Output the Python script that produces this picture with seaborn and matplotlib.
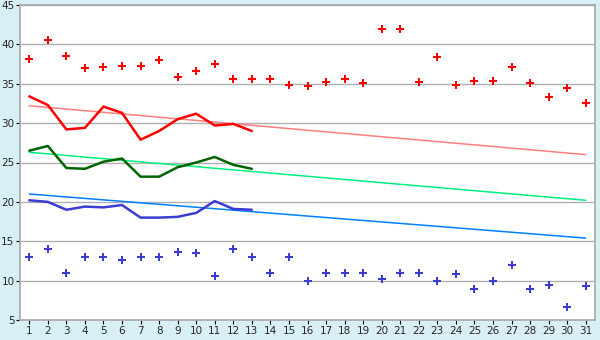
import matplotlib
matplotlib.use("Agg")
import matplotlib.pyplot as plt
import seaborn as sns
import pandas as pd
import numpy as np

days = list(range(1, 32))
max_temp = [38.1, 40.5, 38.5, 37.0, 37.1, 37.2, 37.3, 38.0, 35.8, 36.6,
            37.5, 35.6, 35.6, 35.6, 34.9, 34.7, 35.2, 35.6, 35.1, 42.0,
            42.0, 35.2, 38.4, 34.9, 35.3, 35.4, 37.1, 35.1, 33.3, 34.4, 32.5]
min_temp = [13.0, 14.0, 11.0, 13.0, 13.0, 12.6, 13.0, 13.0, 13.6, 13.5,
            10.6, 14.0, 13.0, 11.0, 13.0, 10.0, 11.0, 11.0, 11.0, 10.2,
            11.0, 11.0, 10.0, 10.8, 9.0, 10.0, 12.0, 8.9, 9.4, 6.6, 9.3]
avg_days = list(range(1, 14))
avg_max = [33.4, 32.3, 29.2, 29.4, 32.1, 31.3, 27.9, 29.0, 30.5, 31.2, 29.7, 29.9, 29.0]
avg_mean = [26.5, 27.1, 24.3, 24.2, 25.1, 25.5, 23.2, 23.2, 24.4, 25.0, 25.7, 24.7, 24.2]
avg_min = [20.2, 20.0, 19.0, 19.4, 19.3, 19.6, 18.0, 18.0, 18.1, 18.6, 20.1, 19.1, 19.0]
trend_days = [1, 31]
trend_max = [32.2, 26.0]
trend_mean = [26.3, 20.2]
trend_min = [21.0, 15.4]
yticks = [5, 10, 15, 20, 25, 30, 35, 40, 45]

sns.set_theme(style="white")
plt.rcParams['font.family'] = ['DejaVu Sans']

fig = plt.figure(figsize=(6, 3.4), dpi=100)
fig.patch.set_facecolor("#d9eff6")
ax = fig.add_axes([20/600, 20/340, 575/600, 315/340])
ax.set_facecolor("white")

df_pts = pd.DataFrame({"day": days, "max": max_temp, "min": min_temp})
df_avg = pd.DataFrame({"day": avg_days, "amax": avg_max, "amean": avg_mean, "amin": avg_min})
df_tr = pd.DataFrame({"day": trend_days, "tmax": trend_max, "tmean": trend_mean, "tmin": trend_min})

sns.lineplot(data=df_tr, x="day", y="tmax", ax=ax, color="#ff7f7f", lw=1.1)
sns.lineplot(data=df_tr, x="day", y="tmean", ax=ax, color="#00f080", lw=1.1)
sns.lineplot(data=df_tr, x="day", y="tmin", ax=ax, color="#0080ff", lw=1.1)

sns.lineplot(data=df_avg, x="day", y="amax", ax=ax, color="#ff0000", lw=1.8)
sns.lineplot(data=df_avg, x="day", y="amean", ax=ax, color="#006400", lw=1.8)
sns.lineplot(data=df_avg, x="day", y="amin", ax=ax, color="#3c3cd2", lw=1.8)

sns.scatterplot(data=df_pts, x="day", y="max", ax=ax, color="#ff0000", marker="P",
                s=36, linewidth=0)
sns.scatterplot(data=df_pts, x="day", y="min", ax=ax, color="#3c3cd2", marker="P",
                s=36, linewidth=0)

ax.set_xlim(0.5, 31.5)
ax.set_ylim(5, 45)
ax.set_xticks(days)
ax.set_xticklabels([str(d) for d in days], fontsize=7.5)
ax.set_yticks(yticks)
ax.set_yticklabels([str(v) for v in yticks], fontsize=7.5)
ax.yaxis.grid(True, color="#b0b0b0", lw=1)
ax.xaxis.grid(False)
ax.set_axisbelow(True)
ax.set_xlabel("")
ax.set_ylabel("")
for sp in ax.spines.values():
    sp.set_color("#a8a8a8")
    sp.set_linewidth(1.2)
ax.tick_params(axis="both", which="both", length=3, width=0.8, color="black",
               pad=1, direction="out", left=True, bottom=True)

fig.savefig("out.png", dpi=100, facecolor=fig.get_facecolor())
